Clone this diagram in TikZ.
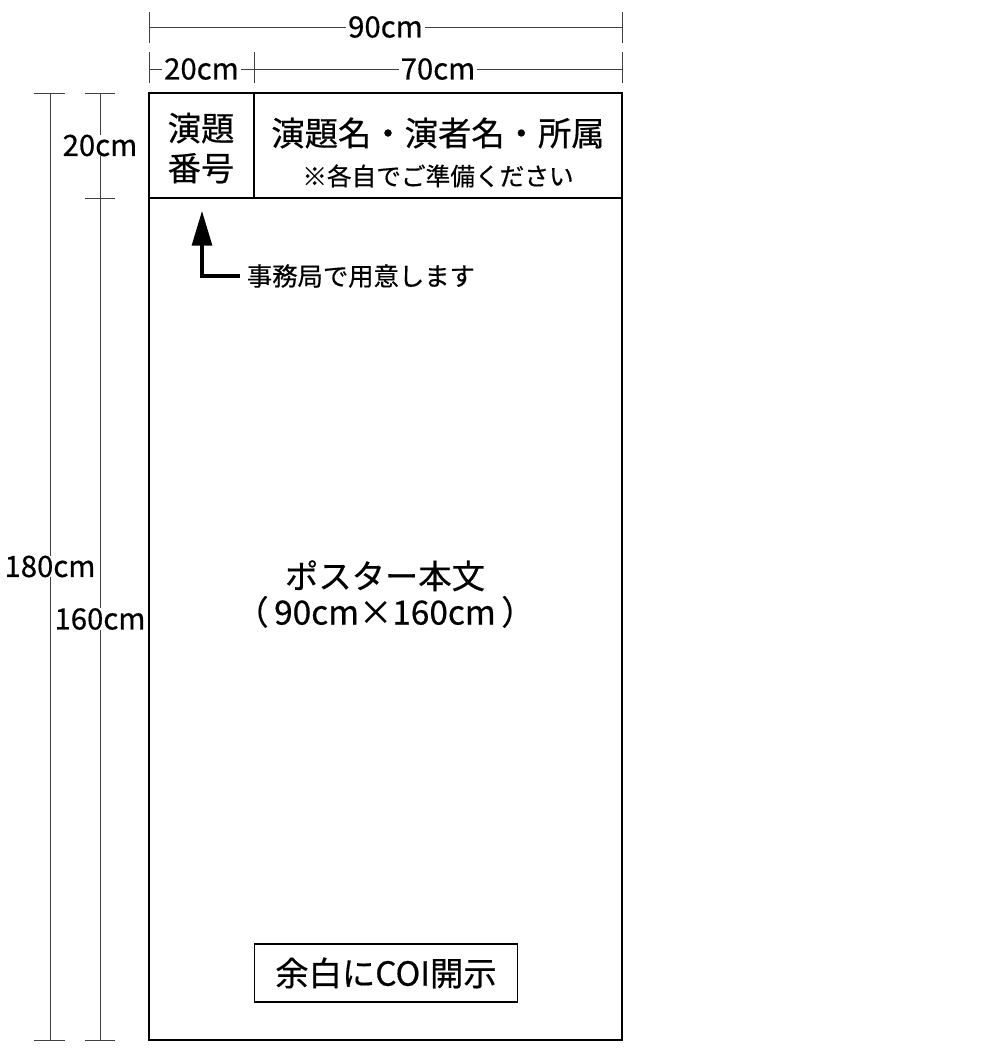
\documentclass[tikz,border=0pt]{standalone}
\usepackage{fontspec}
\setmainfont{Noto Sans CJK JP}[FakeBold=0.5]
\usetikzlibrary{arrows.meta, positioning}

\begin{document}
\begin{tikzpicture}[
        x=0.75pt, y=-0.75pt,
        outline/.style={draw=black, line width=1.1pt},
        dimline/.style={draw=black!75, line width=0.7pt},
        dimlabel/.style={fill=white, inner xsep=1.5pt, inner ysep=0pt, font=\fontsize{22}{24}\selectfont},
        bigtext/.style={font=\fontsize{25}{30}\selectfont, align=center},
        note/.style={font=\fontsize{19}{22}\selectfont}
        ]
        \useasboundingbox (0,0) rectangle (1000,1056);

        % Poster outline
        \coordinate (TL) at (149,93);
        \coordinate (BR) at (622,1040);
        \coordinate (HL) at (149,198);
        \coordinate (HR) at (622,198);
        \coordinate (HDt) at (254,93);
        \coordinate (HDb) at (254,198);
        \draw[outline] (TL) rectangle (BR);
        \draw[outline] (HL) -- (HR);
        \draw[outline] (HDt) -- (HDb);

        % Width dimensions
        \foreach \x in {149,622}
            \draw[dimline] (\x,12) -- (\x,43);
        \foreach \x in {149,254,622}
            \draw[dimline] (\x,52) -- (\x,83);
        \coordinate (W1) at (149,27);
        \coordinate (W2) at (622,27);
        \coordinate (N1) at (149,69);
        \coordinate (N2) at (254,69);
        \coordinate (N3) at (622,69);
        \draw[dimline] (W1) -- node[dimlabel] (w90) {90cm} (W2);
        \draw[dimline] (N1) -- node[dimlabel] (w20) {20cm} (N2);
        \draw[dimline] (N2) -- node[dimlabel] (w70) {70cm} (N3);

        % Height dimensions
        \foreach \y in {93,1040}
            \draw[dimline] (34,\y) -- (65,\y);
        \foreach \y in {93,198,1040}
            \draw[dimline] (85,\y) -- (115,\y);
        \coordinate (A1) at (50,93);
        \coordinate (A2) at (50,1040);
        \coordinate (B1) at (100,93);
        \coordinate (B2) at (100,198);
        \coordinate (B3) at (100,1040);
        \draw[dimline] (A1) -- node[dimlabel] (h180) {180cm} (A2);
        \draw[dimline] (B1) -- node[dimlabel] (h20) {20cm} (B2);
        \draw[dimline] (B2) -- node[dimlabel] (h160) {160cm} (B3);

        % Header texts
        \node[bigtext] (num) at (201,148) {演題\\番号};
        \node[bigtext] (title) at (438,133) {演題名・演者名・所属};
        \node[font=\fontsize{18.5}{22}\selectfont] (prep) at (438,176) {※各自でご準備ください};

        % Arrow to number box
        \node[note, anchor=west, inner sep=5pt] (office) at (240,276) {事務局で用意します};
        \coordinate (tip) at (202,211);
        \draw[line width=2.3pt, -{Triangle[length=26pt, width=15pt]}] (office.west) -| (tip);

        % Poster body
        \node[font=\fontsize{25}{27}\selectfont, align=center] (body) at (385,594) {ポスター本文\\（\,90cm×160cm\,）};

        % COI box
        \node[draw, line width=0.8pt, minimum width=197pt, minimum height=43.5pt,
              font=\fontsize{25}{30}\selectfont] (coi) at (386,973) {余白にCOI開示};

    \end{tikzpicture}
\end{document}
